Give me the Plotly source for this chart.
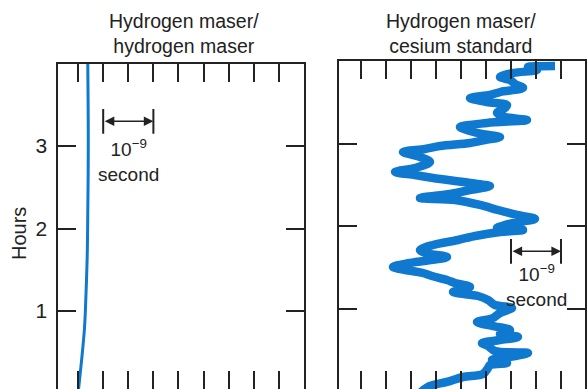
import plotly.graph_objects as go

# ---------------- data ----------------
# Left panel: hydrogen maser vs hydrogen maser (time offset in ns vs hours)
left_hours = [0.0, 0.77, 1.13, 1.62, 1.99, 3.0, 4.0]
left_ns = [0.0, 0.125, 0.153, 0.18, 0.19, 0.203, 0.193]

# Right panel: hydrogen maser vs cesium standard
right_hours = [0.0, 0.073, 0.121, 0.181, 0.218, 0.290, 0.326, 0.350, 0.387, 0.435,
               0.471, 0.495, 0.556, 0.592, 0.628, 0.665, 0.701, 0.749, 0.798, 0.846,
               0.894, 0.955, 1.015, 1.051, 1.112, 1.160, 1.208, 1.269, 1.317, 1.353,
               1.402, 1.438, 1.511, 1.559, 1.631, 1.680, 1.716, 1.776, 1.837, 1.885,
               1.934, 1.958, 1.982, 2.042, 2.091, 2.139, 2.199, 2.260, 2.320, 2.344,
               2.393, 2.441, 2.489, 2.526, 2.586, 2.622, 2.659, 2.707, 2.779, 2.840,
               2.900, 2.937, 2.973, 3.009, 3.045, 3.082, 3.118, 3.154, 3.202, 3.251,
               3.287, 3.323, 3.372, 3.432, 3.468, 3.505, 3.553, 3.589, 3.625, 3.674,
               3.722, 3.770, 3.807, 3.855, 3.891, 3.927, 3.940]
right_ns = [1.20, 1.38, 1.72, 2.04, 2.44, 2.54, 2.58, 2.92, 2.62, 3.08,
            3.34, 2.68, 2.54, 2.42, 2.78, 3.14, 2.78, 2.98, 2.62, 2.32,
            2.64, 2.78, 3.02, 2.68, 2.54, 2.34, 1.84, 2.18, 1.88, 1.72,
            1.42, 1.24, 0.64, 0.98, 1.72, 1.28, 1.18, 1.44, 1.94, 2.28,
            2.78, 3.24, 2.72, 3.04, 3.48, 3.12, 2.74, 2.38, 1.88, 1.18,
            1.78, 2.18, 2.58, 2.18, 1.44, 1.08, 0.68, 1.08, 1.38, 1.18,
            0.84, 1.28, 1.58, 2.18, 2.48, 2.78, 2.42, 2.18, 1.98, 2.52,
            3.32, 2.88, 2.72, 2.88, 2.92, 2.52, 2.18, 2.58, 2.78, 3.24,
            3.08, 2.98, 2.78, 3.04, 3.52, 3.34, 3.88]

x_tickvals = [0, 0.5, 1, 1.5, 2, 2.5, 3, 3.5, 4]
y_tickvals = [1, 2, 3]
y_ticktext = ["1", "2", "3"]

titles = ["Hydrogen maser/<br>hydrogen maser", "Hydrogen maser/<br>cesium standard"]
y_title = "Hours"
scale_label = "10<sup>\u22129</sup><br>second"
# scale bars: (x start ns, x end ns, y hours, label offset hours) per panel
scale_left = (0.5, 1.5, 3.30, -0.48)
scale_right = (3.0, 4.0, 1.70, -0.41)

# ---------------- styling ----------------
W, H = 588, 389
BLUE = "#0f78cf"
INK = "#222222"
FONT = "Liberation Sans, Arial, sans-serif"

def px_x(p):
    return p / W

def px_y(p):
    return 1 - p / H

fig = go.Figure()
fig.add_trace(go.Scatter(x=left_ns, y=left_hours, mode="lines", xaxis="x", yaxis="y",
                         line=dict(color=BLUE, width=3, shape="spline"),
                         showlegend=False, hoverinfo="skip"))
fig.add_trace(go.Scatter(x=right_ns, y=right_hours, mode="lines", xaxis="x2", yaxis="y2",
                         line=dict(color=BLUE, width=8.5, shape="spline", smoothing=0.9),
                         showlegend=False, hoverinfo="skip"))

common_x = dict(tickvals=x_tickvals, ticks="inside", ticklen=18, tickwidth=2, tickcolor=INK,
                showticklabels=False, showgrid=False, zeroline=False, fixedrange=True)
common_y = dict(tickvals=y_tickvals, ticktext=y_ticktext, ticks="inside", ticklen=18, tickwidth=2,
                tickcolor=INK, showline=True, linecolor=INK, linewidth=2, mirror="ticks",
                showgrid=False, zeroline=False, fixedrange=True,
                tickfont=dict(family=FONT, size=21, color=INK))

left_dom = [px_x(57.5), px_x(303.5)]
right_dom = [px_x(338.5), px_x(585)]
left_range = [-0.41, 4.49]
right_range = [-0.45, 4.48]

fig.update_layout(
    width=W, height=H,
    margin=dict(l=0, r=0, t=0, b=0, autoexpand=False),
    paper_bgcolor="white", plot_bgcolor="white",
    xaxis=dict(domain=left_dom, range=left_range, anchor="y", showline=False, **common_x),
    xaxis3=dict(range=left_range, overlaying="x", side="top", anchor="y", showline=True,
                linecolor=INK, linewidth=2, **common_x),
    yaxis=dict(domain=[0, px_y(63.5)], range=[0.055, 4.0], anchor="x", showticklabels=True,
               ticklabelstandoff=4, **common_y),
    xaxis2=dict(domain=right_dom, range=right_range, anchor="y2", showline=False, **common_x),
    xaxis4=dict(range=right_range, overlaying="x2", side="top", anchor="y2", showline=True,
                linecolor=INK, linewidth=2, **common_x),
    yaxis2=dict(domain=[0, px_y(61)], range=[0.036, 4.0], anchor="x2", showticklabels=False,
                **common_y),
)

# invisible traces to activate top axes
fig.add_trace(go.Scatter(x=[None], y=[None], xaxis="x3", yaxis="y", showlegend=False))
fig.add_trace(go.Scatter(x=[None], y=[None], xaxis="x4", yaxis="y2", showlegend=False))

# titles
for t, cx in zip(titles, [184, 461]):
    fig.add_annotation(text=t, xref="paper", yref="paper", x=px_x(cx), y=px_y(34),
                       xanchor="center", yanchor="middle", showarrow=False,
                       font=dict(family=FONT, size=19.5, color=INK))

fig.add_annotation(text=y_title, xref="paper", yref="paper", x=px_x(19), y=px_y(234),
                   textangle=-90, xanchor="center", yanchor="middle", showarrow=False,
                   font=dict(family=FONT, size=20, color=INK))

# scale bars
for (x0, x1, yy, off), xr, yr in [(scale_left, "x", "y"), (scale_right, "x2", "y2")]:
    fig.add_annotation(x=x1, y=yy, ax=x0, ay=yy, xref=xr, yref=yr, axref=xr, ayref=yr,
                       text="", showarrow=True, arrowhead=2, arrowside="end+start",
                       arrowsize=1.2, arrowwidth=1.6, arrowcolor=INK)
    for xv in (x0, x1):
        fig.add_shape(type="line", x0=xv, x1=xv, y0=yy - 0.15, y1=yy + 0.15, xref=xr, yref=yr,
                      line=dict(color=INK, width=2))
    cx = (x0 + x1) / 2
    fig.add_annotation(text=scale_label, x=cx, y=yy + off, xref=xr, yref=yr, showarrow=False,
                       xanchor="center", yanchor="middle",
                       font=dict(family=FONT, size=19, color=INK))

fig.write_html("out.html", config={"displayModeBar": False},
               post_script="document.body.style.margin='0';document.body.style.overflow='hidden';")
